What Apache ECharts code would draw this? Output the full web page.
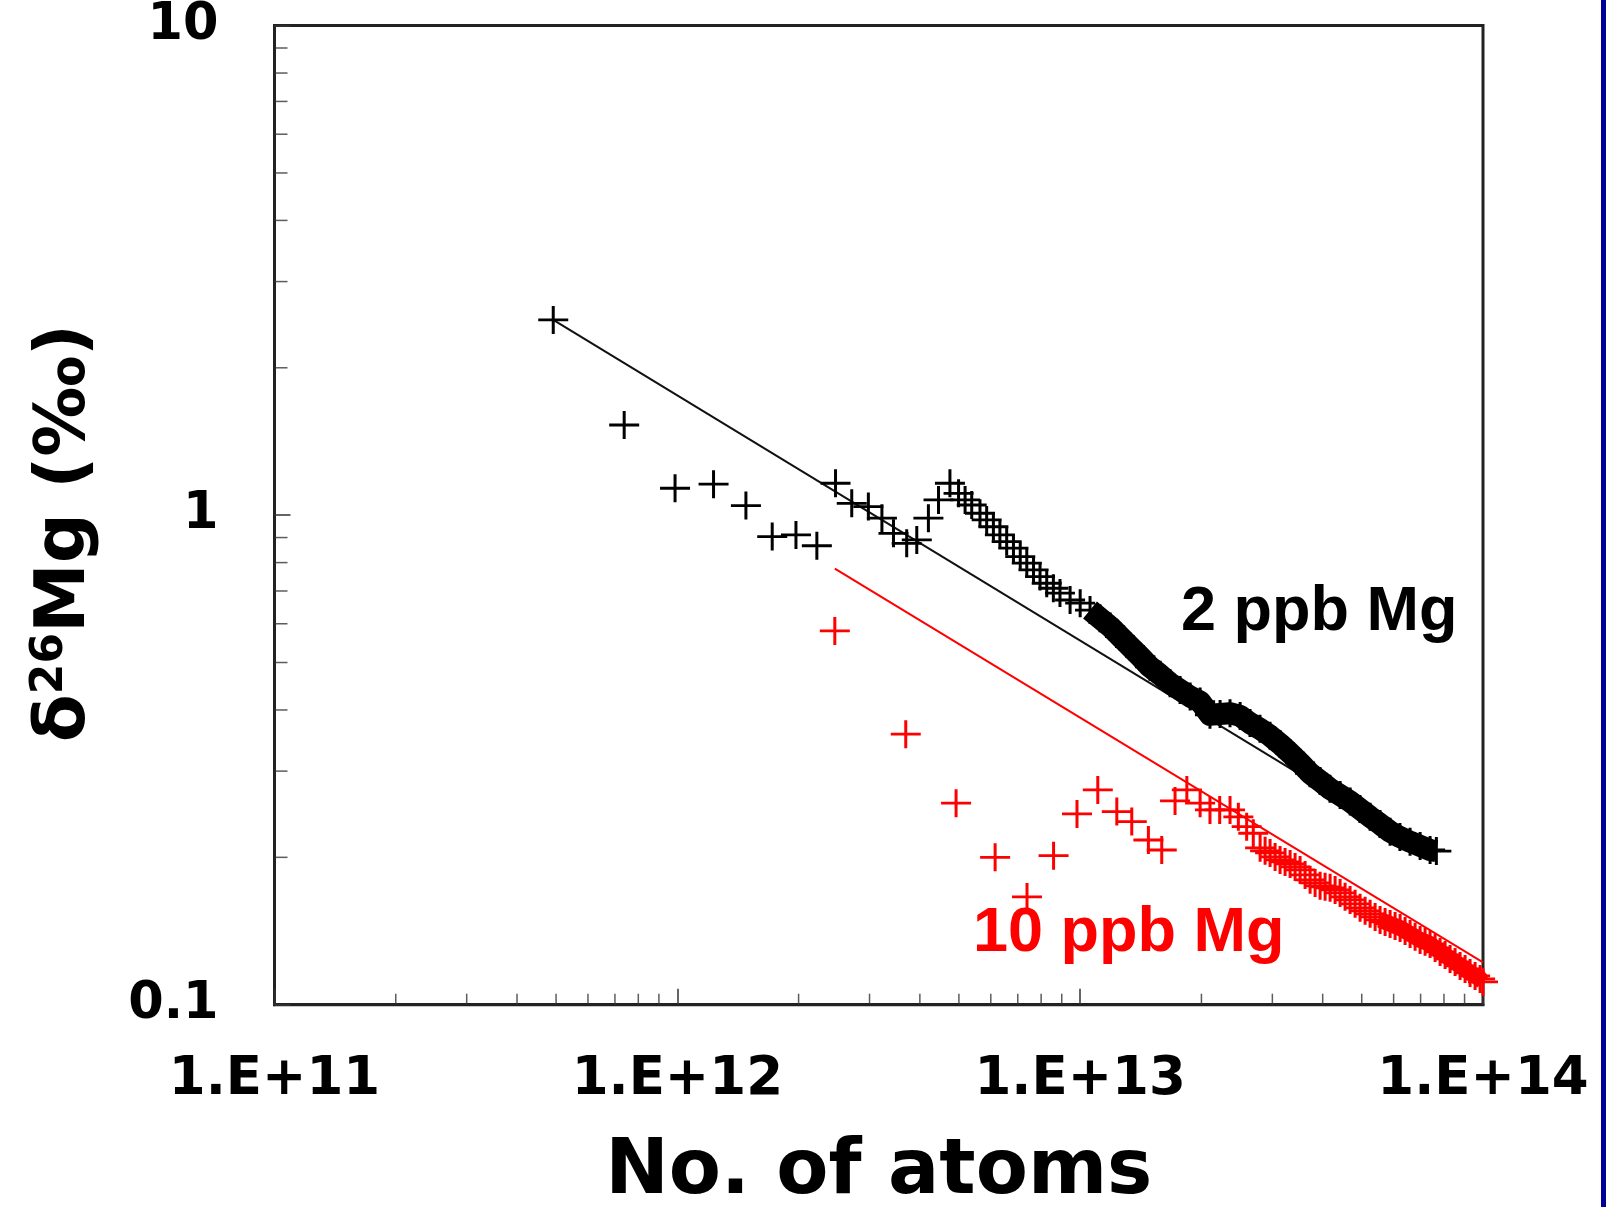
<!DOCTYPE html>
<html>
<head>
<meta charset="utf-8">
<script src="https://cdn.jsdelivr.net/npm/echarts@6/dist/echarts.min.js"></script>
<style>
  html, body { margin: 0; padding: 0; background: #fff; }
  #main { width: 1606px; height: 1207px; }
</style>
</head>
<body>
<div id="main"></div>
<script>
// 2 ppb Mg run (black crosses)
const blackX = [4.92e11, 7.38e11, 9.87e11, 1.23e12, 1.48e12, 1.72e12, 1.97e12, 2.22e12, 2.47e12, 2.71e12,
  2.98e12, 3.22e12, 3.44e12, 3.71e12, 3.93e12, 4.20e12, 4.45e12, 4.75e12, 4.99e12, 5.18e12,
  5.38e12, 5.64e12, 5.86e12, 6.09e12, 6.32e12, 6.57e12, 6.83e12, 7.10e12, 7.37e12, 7.66e12,
  7.95e12, 8.26e12, 8.58e12, 8.91e12, 9.44e12, 1.0e13, 1.058e13, 1.12e13, 1.187e13, 1.256e13,
  1.33e13, 1.41e13, 1.49e13, 1.58e13, 1.672e13, 1.77e13, 1.875e13, 1.985e13, 2.10e13, 2.225e13,
  2.355e13, 2.495e13, 2.64e13, 2.795e13, 2.96e13, 3.135e13, 3.32e13, 3.515e13, 3.72e13, 3.94e13,
  4.17e13, 4.42e13, 4.68e13, 4.95e13, 5.245e13, 5.55e13, 5.88e13, 6.22e13, 6.59e13, 6.98e13,
  7.39e13, 7.66e13];
const blackY = [2.505, 1.528, 1.135, 1.157, 1.046, 0.904, 0.911, 0.866, 1.162, 1.057,
  1.041, 0.986, 0.918, 0.876, 0.890, 0.986, 1.074, 1.162, 1.108, 1.074,
  1.049, 1.009, 0.978, 0.947, 0.911, 0.883, 0.856, 0.823, 0.798, 0.773,
  0.749, 0.726, 0.709, 0.693, 0.671, 0.661, 0.640, 0.616, 0.592, 0.565,
  0.539, 0.514, 0.490, 0.472, 0.4535, 0.4395, 0.426, 0.416, 0.391, 0.3925,
  0.394, 0.389, 0.376, 0.366, 0.3545, 0.341, 0.3265, 0.312, 0.297, 0.2865,
  0.276, 0.268, 0.260, 0.251, 0.242, 0.234, 0.2257, 0.220, 0.2153, 0.211,
  0.207, 0.206];

// 10 ppb Mg run (red crosses)
const redX = [2.46e12, 3.69e12, 4.92e12, 6.15e12, 7.38e12, 8.59e12, 9.82e12, 1.106e13, 1.233e13, 1.343e13,
  1.477e13, 1.594e13, 1.72e13, 1.84e13, 1.985e13, 2.10e13, 2.22e13, 2.355e13, 2.47e13, 2.59e13,
  2.69e13, 2.797e13, 2.878e13, 2.961e13, 3.047e13, 3.135e13, 3.226e13, 3.320e13, 3.416e13, 3.515e13,
  3.617e13, 3.722e13, 3.830e13, 3.941e13, 4.055e13, 4.173e13, 4.294e13, 4.418e13, 4.546e13, 4.678e13,
  4.814e13, 4.953e13, 5.097e13, 5.245e13, 5.397e13, 5.553e13, 5.714e13, 5.880e13, 6.050e13, 6.226e13,
  6.406e13, 6.592e13, 6.783e13, 6.980e13, 7.182e13, 7.390e13, 7.605e13, 7.825e13, 8.052e13, 8.285e13,
  8.525e13, 8.772e13, 9.027e13, 9.288e13, 9.558e13, 9.835e13, 1.0e14];
const redY = [0.580, 0.357, 0.258, 0.200, 0.166, 0.2016, 0.2453, 0.2746, 0.248, 0.2366,
  0.217, 0.207, 0.2608, 0.2746, 0.258, 0.250, 0.250, 0.250, 0.242, 0.231,
  0.224, 0.2091, 0.2062, 0.2042, 0.2004, 0.1976, 0.1957, 0.1939, 0.1912, 0.1885,
  0.1841, 0.1799, 0.1773, 0.1749, 0.1741, 0.1733, 0.1716, 0.1692, 0.1661, 0.1637,
  0.1607, 0.1577, 0.1555, 0.1533, 0.1511, 0.1490, 0.1476, 0.1462, 0.1448, 0.1435,
  0.1415, 0.1395, 0.1376, 0.1356, 0.1344, 0.1331, 0.1306, 0.1282, 0.1264, 0.1240,
  0.1223, 0.1200, 0.1183, 0.1161, 0.1145, 0.1129, 0.1113];

// fitted lines
const blackFitX = [4.92e11, 7.66e13];
const blackFitY = [2.505, 0.200];
const redFitX = [2.46e12, 1.0e14];
const redFitY = [0.778, 0.122];

const xTickLabels = ['1.E+11', '1.E+12', '1.E+13', '1.E+14'];
const yTickLabels = ['0.1', '1', '10'];
const xMinorTicks = [2e11, 3e11, 4e11, 5e11, 6e11, 7e11, 8e11, 9e11,
  2e12, 3e12, 4e12, 5e12, 6e12, 7e12, 8e12, 9e12,
  2e13, 3e13, 4e13, 5e13, 6e13, 7e13, 8e13, 9e13];
const yMinorTicks = [0.2, 0.3, 0.4, 0.5, 0.6, 0.7, 0.8, 0.9, 2, 3, 4, 5, 6, 7, 8, 9];

const pairs = (xs, ys) => xs.map((x, i) => [x, ys[i]]);
const plus = 'path://M0,45H45V0H55V45H100V55H55V100H45V55H0Z';
const tickFont = { fontFamily: 'DejaVu Sans', fontWeight: 'bold', color: '#000' };

// dense tails, where the crosses overlap into a solid ribbon
const blackBand = blackX.findIndex(x => x >= 1.05e13);
const redBand = redX.findIndex(x => x >= 5.5e13);

const chart = echarts.init(document.getElementById('main'));

const option = {
    animation: false,
    backgroundColor: '#fff',
    grid: {
        left: 274.5, right: 123, top: 25.6, bottom: 202.3,
        outerBoundsMode: 'none', containLabel: false,
        show: true, borderColor: '#222', borderWidth: 3
    },
    xAxis: {
        type: 'log', logBase: 10, min: 1e11, max: 1e14,
        name: 'No. of atoms', nameLocation: 'middle', nameGap: 129,
        nameTextStyle: { ...tickFont, fontSize: 76, lineHeight: 80 },
        axisLine: { show: true, lineStyle: { color: '#222', width: 3 } },
        axisTick: { inside: true, length: 16, lineStyle: { color: '#333', width: 1.5 } },
        axisLabel: {
            ...tickFont, fontSize: 53, lineHeight: 53, margin: 49,
            formatter: (v, i) => xTickLabels[i]
        },
        splitLine: { show: false }
    },
    yAxis: {
        type: 'log', logBase: 10, min: 0.1, max: 10,
        name: '{d|δ}{s|26}{d|Mg (‰)}', nameLocation: 'middle', nameRotate: 90, nameGap: 172,
        nameTextStyle: {
            padding: [0, 36, 0, 0],
            rich: {
                d: { ...tickFont, fontSize: 70, lineHeight: 74 },
                s: { ...tickFont, fontSize: 44, lineHeight: 44, verticalAlign: 'top' }
            }
        },
        axisLine: { show: true, lineStyle: { color: '#222', width: 3 } },
        axisTick: { inside: true, length: 16, lineStyle: { color: '#333', width: 1.5 } },
        axisLabel: {
            ...tickFont, fontSize: 51, margin: 56,
            formatter: (v, i) => yTickLabels[i]
        },
        splitLine: { show: false }
    },
    graphic: [
        { type: 'rect', right: 0, top: 0, shape: { width: 5, height: 1207 }, style: { fill: '#000099' } },
        {
            type: 'text', x: 1181, y: 613,
            style: { text: '2 ppb Mg', fontFamily: 'Liberation Sans', fontWeight: 'bold', fontSize: 63, fill: '#000', verticalAlign: 'middle' }
        },
        {
            type: 'text', x: 973, y: 934,
            style: { text: '10 ppb Mg', fontFamily: 'Liberation Sans', fontWeight: 'bold', fontSize: 63, fill: '#ff0000', verticalAlign: 'middle' }
        }
    ],
    series: [
        {
            name: '2 ppb fit', type: 'line', z: 1, symbol: 'none',
            data: pairs(blackFitX, blackFitY),
            lineStyle: { color: '#111', width: 2 }
        },
        {
            name: '10 ppb fit', type: 'line', z: 1, symbol: 'none',
            data: pairs(redFitX, redFitY),
            lineStyle: { color: '#ff0000', width: 2 }
        },
        {
            name: '2 ppb band', type: 'line', z: 2, symbol: 'none',
            data: pairs(blackX.slice(blackBand), blackY.slice(blackBand)),
            lineStyle: { color: '#000', width: 22, cap: 'butt', join: 'round' }
        },
        {
            name: '10 ppb band', type: 'line', z: 2, symbol: 'none',
            data: pairs(redX.slice(redBand), redY.slice(redBand)),
            lineStyle: { color: '#ff0000', width: 16, cap: 'butt', join: 'round' }
        },
        {
            name: '2 ppb Mg', type: 'scatter', z: 3, clip: false,
            symbol: plus, symbolSize: [30, 28],
            data: pairs(blackX, blackY),
            itemStyle: { color: '#000', opacity: 1 }
        },
        {
            name: '10 ppb Mg', type: 'scatter', z: 3, clip: false,
            symbol: plus, symbolSize: [30, 28],
            data: pairs(redX, redY),
            itemStyle: { color: '#ff0000', opacity: 1 }
        },
        {
            // minor ticks on the x axis
            name: 'xminor', type: 'scatter', z: 4, clip: false, silent: true,
            symbol: 'rect', symbolSize: [1.5, 11], symbolOffset: [0, -5.5],
            data: xMinorTicks.map(v => [v, 0.1]),
            itemStyle: { color: '#333' }
        },
        {
            // minor ticks on the y axis
            name: 'yminor', type: 'scatter', z: 4, clip: false, silent: true,
            symbol: 'rect', symbolSize: [13, 1.5], symbolOffset: [6.5, 0],
            data: yMinorTicks.map(v => [1e11, v]),
            itemStyle: { color: '#333' }
        }
    ]
};

chart.setOption(option);
</script>
</body>
</html>
